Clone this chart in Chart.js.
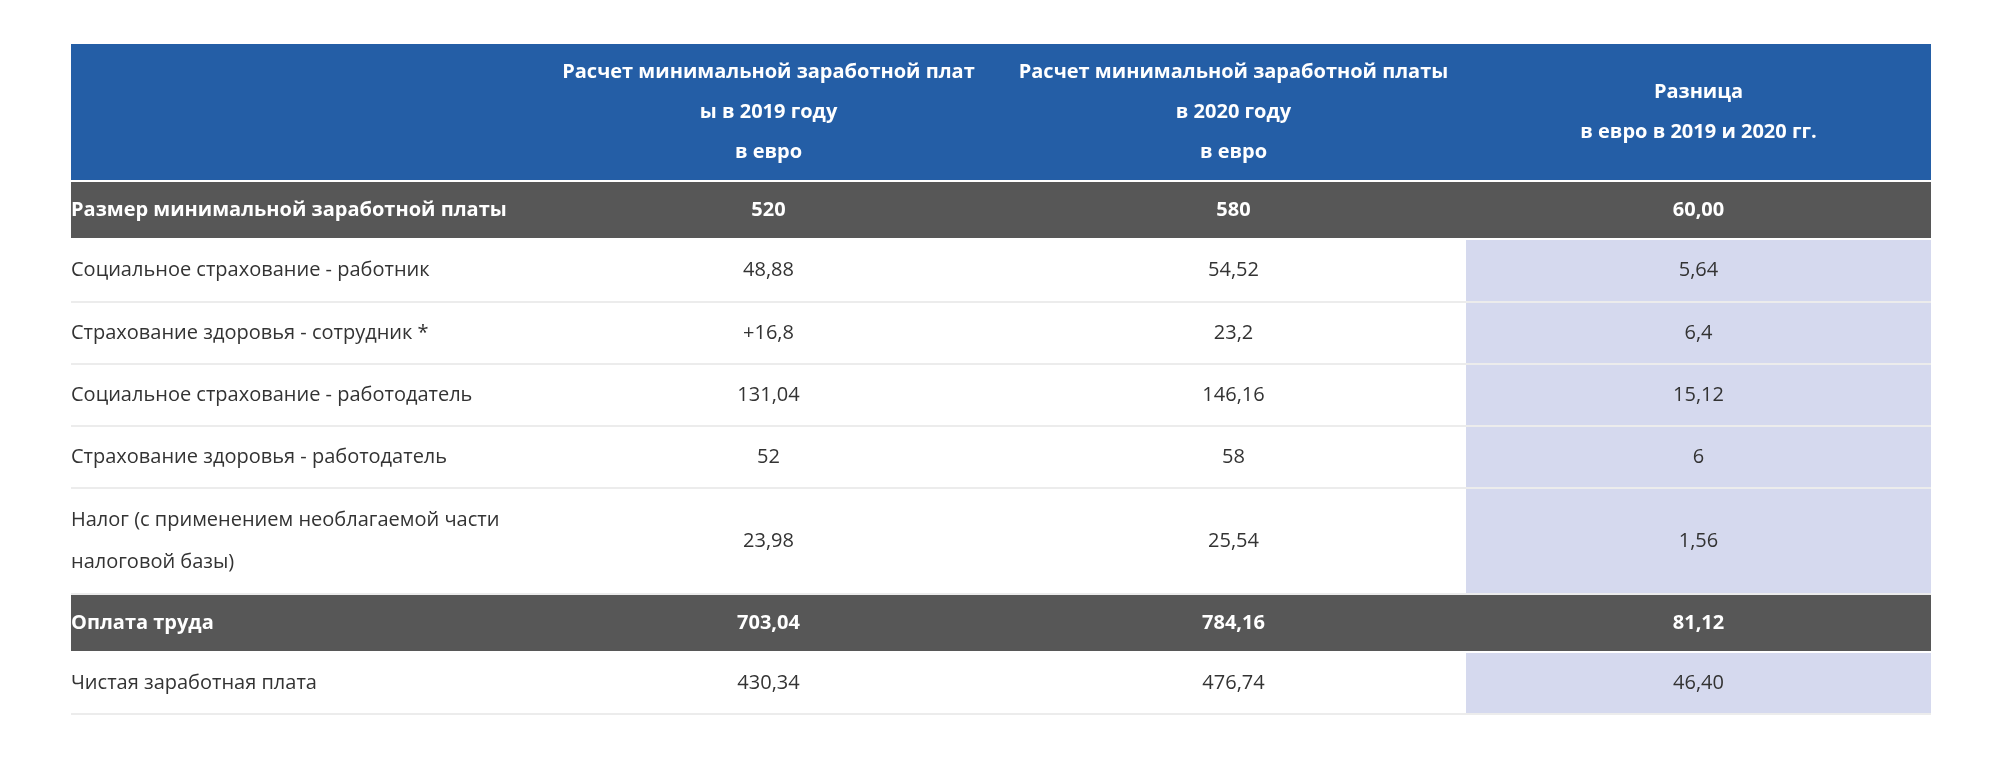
<!DOCTYPE html>
<html>
<head>
<meta charset="utf-8">
<script src="https://cdn.jsdelivr.net/npm/chart.js@4"></script>
<style>
  body { margin: 0; background: #fff; }
</style>
</head>
<body>
<canvas id="tableChart" width="2000" height="766"></canvas>
<script>
const headerLabels = [
    [],
    ["Расчет минимальной заработной плат", "ы в 2019 году", "в евро"],
    ["Расчет минимальной заработной платы", "в 2020 году", "в евро"],
    ["Разница", "в евро в 2019 и 2020 гг."],
];
const rowLabels = [
    ["Размер минимальной заработной платы"],
    ["Социальное страхование - работник"],
    ["Страхование здоровья - сотрудник *"],
    ["Социальное страхование - работодатель"],
    ["Страхование здоровья - работодатель"],
    ["Налог (с применением необлагаемой части", "налоговой базы)"],
    ["Оплата труда"],
    ["Чистая заработная плата"],
];
const values2019 = ["520", "48,88", "+16,8", "131,04", "52", "23,98", "703,04", "430,34"];
const values2020 = ["580", "54,52", "23,2", "146,16", "58", "25,54", "784,16", "476,74"];
const difference = ["60,00", "5,64", "6,4", "15,12", "6", "1,56", "81,12", "46,40"];
const totalRows = [0, 6];

// row heights in scale units (header first), separator gap after each
const rowHeights = [136, 56, 61, 60, 60, 60, 104, 56, 60];
const gap = 2;

const edges = [];
let acc = 0;
rowHeights.forEach(h => { edges.push([acc, acc + h]); acc += h + gap; });
const yMax = acc - gap;

const font = "'Open Sans', 'Noto Sans', sans-serif";

const tablePlugin = {
    id: "tablePlugin",
    afterDraw(chart) {
        const { ctx, scales: { x, y } } = chart;
        const colX = c => x.getPixelForValue(c);
        const rowY = v => y.getPixelForValue(v);

        // header
        const [h0, h1] = edges[0];
        ctx.fillStyle = "#245ea6";
        ctx.fillRect(colX(0), rowY(h0), colX(4) - colX(0), rowY(h1) - rowY(h0));
        ctx.fillStyle = "#fff";
        ctx.font = "bold 20px " + font;
        ctx.textAlign = "center";
        ctx.textBaseline = "middle";
        headerLabels.forEach((lines, c) => {
            const cx = (colX(c) + colX(c + 1)) / 2;
            const cy = (rowY(h0) + rowY(h1)) / 2;
            lines.forEach((t, i) => {
                ctx.fillText(t, cx, cy + (i - (lines.length - 1) / 2) * 40);
            });
        });

        rowLabels.forEach((label, r) => {
            const [a, b] = edges[r + 1];
            const top = rowY(a), bottom = rowY(b), cy = (top + bottom) / 2;
            const isTotal = totalRows.includes(r);
            if (isTotal) {
                ctx.fillStyle = "#575757";
                ctx.fillRect(colX(0), top, colX(4) - colX(0), bottom - top);
            } else {
                ctx.fillStyle = "#d5d9ee";
                ctx.fillRect(colX(3), top, colX(4) - colX(3), bottom - top);
                // separator line below
                ctx.fillStyle = "#ececec";
                ctx.fillRect(colX(0), bottom, colX(4) - colX(0), gap);
            }
            ctx.fillStyle = isTotal ? "#fff" : "#333";
            ctx.font = (isTotal ? "bold " : "") + "20px " + font;
            ctx.textAlign = "left";
            label.forEach((t, i) => {
                ctx.fillText(t, colX(0), cy + (i - (label.length - 1) / 2) * 42);
            });
            ctx.textAlign = "center";
            [values2019[r], values2020[r], difference[r]].forEach((v, c) => {
                ctx.fillText(v, (colX(c + 1) + colX(c + 2)) / 2, cy);
            });
        });
    },
};

new Chart(document.getElementById("tableChart"), {
    type: "scatter",
    data: { datasets: [{ data: [] }] },
    options: {
        responsive: false,
        animation: false,
        devicePixelRatio: 1,
        layout: { padding: { left: 71, right: 69, top: 44, bottom: 53 } },
        plugins: { legend: { display: false }, tooltip: { enabled: false } },
        scales: {
            x: { type: "linear", min: 0, max: 4, display: false },
            y: { type: "linear", min: 0, max: yMax, reverse: true, display: false },
        },
    },
    plugins: [tablePlugin],
});
</script>
</body>
</html>
